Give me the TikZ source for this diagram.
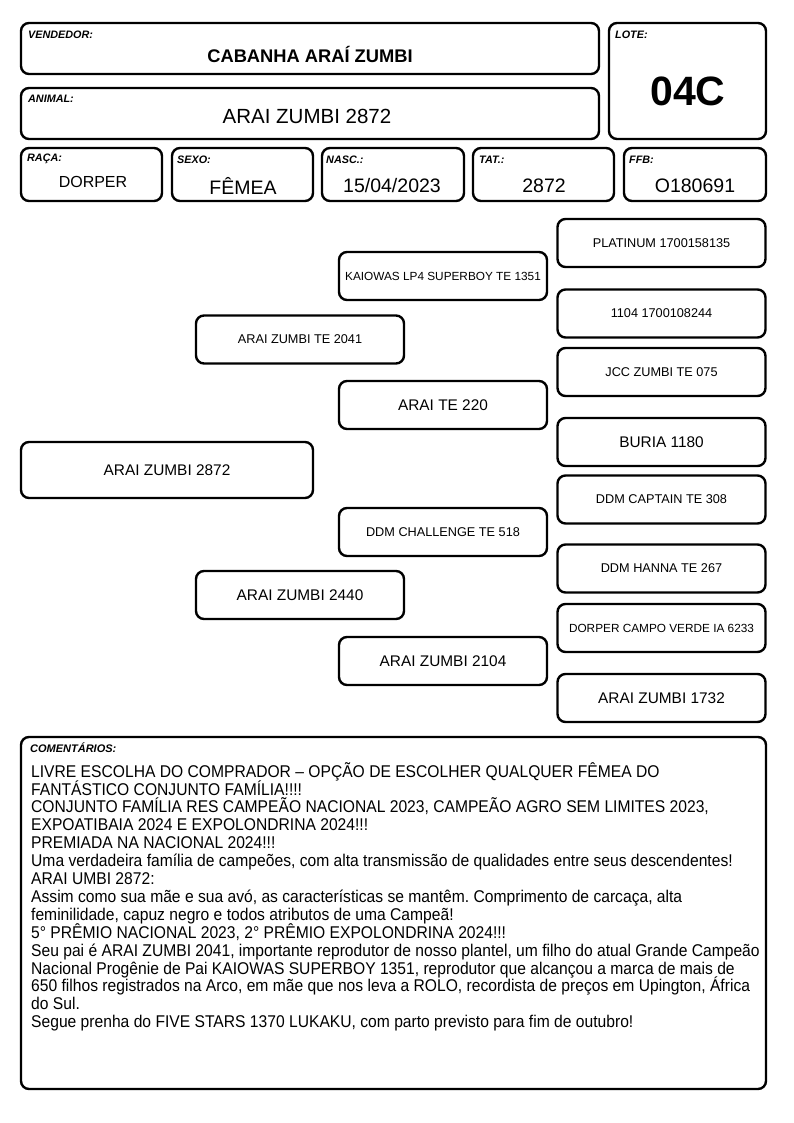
\documentclass[tikz,border=0pt]{standalone}
\usepackage{fontspec}
\setmainfont{Liberation Sans}
\newfontfamily\narrowfont{Liberation Sans}[FakeStretch=0.92]
\newcommand\commentfont{\narrowfont\fontsize{17}{17.9}\selectfont\lineskiplimit=-20pt\frenchspacing\relax}
\usepackage{tikz}
\usetikzlibrary{positioning}
\definecolor{cardline}{RGB}{0,0,0}
\tikzset{
  field-box/.style={draw=cardline, line width=2.4pt, rounded corners=8pt,
    fill=white, inner sep=0pt},
  field-label/.style={anchor=west, inner sep=0pt,
    font=\fontsize{10.8}{12}\selectfont\bfseries\itshape},
  field-value/.style={inner sep=0pt, font=\fontsize{19.5}{22}\selectfont},
  ped-node/.style={draw=cardline, line width=2.4pt, rounded corners=8pt,
    minimum width=208pt, minimum height=48pt, inner sep=0pt,
    font=\fontsize{15.4}{18}\selectfont},
  ped-small/.style={ped-node, font=\fontsize{12.7}{15}\selectfont},
  ped-tiny/.style={ped-node, font=\fontsize{11.8}{14}\selectfont}
}
\begin{document}
\begin{tikzpicture}[x=1pt, y=-1pt]
\useasboundingbox (0,0) rectangle (794,1123);
% header
\node[field-box, minimum width=578pt, minimum height=51pt] (vendor) at (310,48.5) {};
\node[field-box, minimum width=578pt, minimum height=51pt] (animal) at (310,113.5) {};
\node[field-box, minimum width=157pt, minimum height=116pt] (lot) at (687.5,81) {};
\node[field-label] (vendor-label) at (28,35) {VENDEDOR:};
\node[field-label] (animal-label) at (28,99) {ANIMAL:};
\node[field-label] (lot-label) at (615,35) {LOTE:};
\node[field-value, font=\fontsize{18.3}{22}\selectfont\bfseries] (vendor-value) at (310,54) {CABANHA ARAÍ ZUMBI};
\node[field-value, font=\fontsize{20.5}{24}\selectfont] (animal-value) at (307,116) {ARAI ZUMBI 2872};
\node[field-value, font=\fontsize{41}{46}\selectfont\bfseries] (lot-value) at (688,91) {04C};
% data row
\node[field-box, minimum width=141pt, minimum height=53pt] (breed) at (91.5,174.5) {};
\node[field-box, minimum width=141pt, minimum height=53pt] (sex) at (242.5,174.5) {};
\node[field-box, minimum width=142pt, minimum height=53pt] (birth) at (393,174.5) {};
\node[field-box, minimum width=141pt, minimum height=53pt] (tattoo) at (543.5,174.5) {};
\node[field-box, minimum width=142pt, minimum height=53pt] (ffb) at (695,174.5) {};
\node[field-label] (breed-label) at (27,159) {RAÇA:};
\node[field-label] (sex-label) at (177,160) {SEXO:};
\node[field-label] (birth-label) at (326,160) {NASC.:};
\node[field-label] (tattoo-label) at (479,160) {TAT.:};
\node[field-label] (ffb-label) at (629,160) {FFB:};
\node[field-value, font=\fontsize{16}{19}\selectfont] (breed-value) at (93,182) {DORPER};
\node[field-value] (sex-value) at (243,186) {FÊMEA};
\node[field-value] (birth-value) at (392,186) {15/04/2023};
\node[field-value] (tattoo-value) at (544,186) {2872};
\node[field-value] (ffb-value) at (695,186) {O180691};
% pedigree
\node[ped-node, minimum width=292pt, minimum height=56pt] (animal-ped) at (167,470) {ARAI ZUMBI 2872};
\node[ped-small] (sire) at (300,339.5) {ARAI ZUMBI TE 2041};
\node[ped-node] (dam) at (300,595) {ARAI ZUMBI 2440};
\node[ped-tiny] (sire-sire) at (443,276) {KAIOWAS LP4 SUPERBOY TE 1351};
\node[ped-node] (sire-dam) at (443,405) {ARAI TE 220};
\node[ped-small] (dam-sire) at (443,532) {DDM CHALLENGE TE 518};
\node[ped-node] (dam-dam) at (443,661) {ARAI ZUMBI 2104};
\node[ped-small] (ss-sire) at (661.5,243) {PLATINUM 1700158135};
\node[ped-small] (ss-dam) at (661.5,313.5) {1104 1700108244};
\node[ped-small] (sd-sire) at (661.5,372) {JCC ZUMBI TE 075};
\node[ped-node] (sd-dam) at (661.5,442) {BURIA 1180};
\node[ped-small] (ds-sire) at (661.5,499.5) {DDM CAPTAIN TE 308};
\node[ped-small] (ds-dam) at (661.5,568.5) {DDM HANNA TE 267};
\node[ped-tiny] (dd-sire) at (661.5,628) {DORPER CAMPO VERDE IA 6233};
\node[ped-node] (dd-dam) at (661.5,698) {ARAI ZUMBI 1732};
% comments
\node[field-box, minimum width=745pt, minimum height=352pt] (comments) at (393.5,913) {};
\node[field-label, font=\fontsize{11}{12}\selectfont\bfseries\itshape] (comments-label) at (30,748) {COMENTÁRIOS:};
\node[anchor=north west, inner sep=0pt, align=left, font=\commentfont] (comments-text) at (31,762) {%
LIVRE ESCOLHA DO COMPRADOR – OPÇÃO DE ESCOLHER QUALQUER FÊMEA DO\\
FANTÁSTICO CONJUNTO FAMÍLIA!!!!\\
CONJUNTO FAMÍLIA RES CAMPEÃO NACIONAL 2023, CAMPEÃO AGRO SEM LIMITES 2023,\\
EXPOATIBAIA 2024 E EXPOLONDRINA 2024!!!\\
PREMIADA NA NACIONAL 2024!!!\\
Uma verdadeira família de campeões, com alta transmissão de qualidades entre seus descendentes!\\
ARAI UMBI 2872:\\
Assim como sua mãe e sua avó, as características se mantêm. Comprimento de carcaça, alta\\
feminilidade, capuz negro e todos atributos de uma Campeã!\\
5° PRÊMIO NACIONAL 2023, 2° PRÊMIO EXPOLONDRINA 2024!!!\\
Seu pai é ARAI ZUMBI 2041, importante reprodutor de nosso plantel, um filho do atual Grande Campeão\\
Nacional Progênie de Pai KAIOWAS SUPERBOY 1351, reprodutor que alcançou a marca de mais de\\
650 filhos registrados na Arco, em mãe que nos leva a ROLO, recordista de preços em Upington, África\\
do Sul.\\
Segue prenha do FIVE STARS 1370 LUKAKU, com parto previsto para fim de outubro!};
\end{tikzpicture}
\end{document}
